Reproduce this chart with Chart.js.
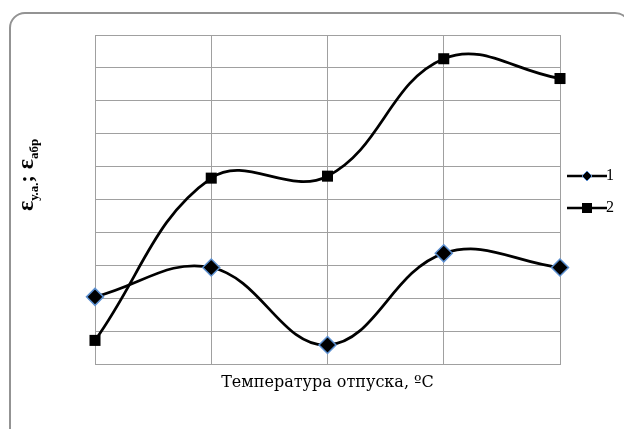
<!DOCTYPE html>
<html>
<head>
<meta charset="utf-8">
<script src="https://cdn.jsdelivr.net/npm/chart.js@4"></script>
<style>
  html, body { margin: 0; padding: 0; background: #fff; overflow: hidden; }
  #wrap { position: relative; width: 624px; height: 429px; }
  #frame {
    position: absolute; left: 9px; top: 12px; width: 622px; height: 440px;
    border: 2px solid #939393; border-radius: 16px; box-sizing: border-box;
    pointer-events: none;
  }
  canvas { position: absolute; left: 0; top: 0; }
</style>
</head>
<body>
<div id="wrap">
  <div id="frame"></div>
  <canvas id="chart" width="624" height="429"></canvas>
</div>
<script>
// data (no tick labels shown, grid = 1 unit)
var categories = ["T1", "T2", "T3", "T4", "T5"];
var series1 = [2.06, 2.95, 0.6, 3.38, 2.95];
var series2 = [0.74, 5.66, 5.72, 9.28, 8.68];
var seriesNames = ["1", "2"];

var serif = "'Liberation Serif', 'Times New Roman', serif";

// legend icons: line with marker, like the spreadsheet legend
function makeIcon(kind) {
  var c = document.createElement("canvas");
  c.width = 40; c.height = 20;
  var g = c.getContext("2d");
  g.strokeStyle = "#000"; g.lineWidth = 2.5;
  g.beginPath(); g.moveTo(0, 10); g.lineTo(40, 10); g.stroke();
  g.fillStyle = "#000";
  if (kind == "diamond") {
    g.beginPath();
    g.moveTo(20, 5); g.lineTo(25, 10); g.lineTo(20, 15); g.lineTo(15, 10); g.closePath();
    g.fill();
    g.strokeStyle = "#5b8fd0"; g.lineWidth = 1; g.stroke();
  } else {
    g.fillRect(15, 5, 10, 10);
  }
  return c;
}
var legendIcons = [makeIcon("diamond"), makeIcon("square")];

// y axis title with subscripts
var yTitle = {
  id: "yTitle",
  afterDraw: function(chart) {
    var ctx = chart.ctx;
    var parts = [
      ["ε", 24, 0], ["у.а.", 13, 5], [";", 22, 0], [" ε", 24, 0], ["абр", 13, 5]
    ];
    ctx.save();
    ctx.translate(33, 211);
    ctx.rotate(-Math.PI / 2);
    ctx.fillStyle = "#000";
    ctx.textBaseline = "alphabetic";
    var x = 0;
    parts.forEach(function(p) {
      ctx.font = "bold " + p[1] + "px " + serif;
      ctx.fillText(p[0], x, p[2]);
      x += ctx.measureText(p[0]).width;
    });
    ctx.restore();
  }
};

var gridColor = "#a0a0a0";

var ctx = document.getElementById("chart").getContext("2d");
var myChart = new Chart(ctx, {
  type: "line",
  data: {
    labels: categories,
    datasets: [{
        label: seriesNames[0],
        data: series1,
        borderColor: "#000",
        borderWidth: 2.75,
        pointStyle: "rectRot",
        pointRadius: 8.5,
        pointBackgroundColor: "#000",
        pointBorderColor: "#5b8fd0",
        pointBorderWidth: 1.5,
        tension: 0.4,
        clip: false
      },
      {
        label: seriesNames[1],
        data: series2,
        borderColor: "#000",
        borderWidth: 2.75,
        pointStyle: "rect",
        pointRadius: 7.8,
        pointBackgroundColor: "#000",
        pointBorderColor: "#000",
        pointBorderWidth: 0,
        tension: 0.4,
        clip: false
      }
    ]
  },
  options: {
    responsive: false,
    animation: false,
    devicePixelRatio: 1,
    layout: { padding: { left: 95, top: 35, right: 0, bottom: 33 } },
    scales: {
      x: {
        offset: false,
        grid: { color: gridColor, drawTicks: false },
        border: { color: gridColor },
        ticks: { display: false },
        title: {
          display: true,
          text: "Температура отпуска, ºС",
          color: "#000",
          font: { family: "'DejaVu Serif', serif", size: 16 },
          padding: { top: 8, bottom: 4 }
        }
      },
      y: {
        min: 0,
        max: 10,
        grid: { color: gridColor, drawTicks: false },
        border: { color: gridColor },
        ticks: { display: false, stepSize: 1 }
      }
    },
    plugins: {
      tooltip: { enabled: false },
      legend: {
        position: "right",
        align: "start",
        title: { display: true, text: "", font: { size: 10 }, padding: { top: 105, bottom: 0 } },
        labels: {
          usePointStyle: true,
          pointStyleWidth: 22,
          padding: 16,
          color: "#000",
          font: { family: serif, size: 16 },
          generateLabels: function(chart) {
            var items = Chart.defaults.plugins.legend.labels.generateLabels(chart);
            items.forEach(function(it, i) { it.pointStyle = legendIcons[i]; });
            return items;
          }
        }
      }
    }
  },
  plugins: [yTitle]
});
</script>
</body>
</html>
